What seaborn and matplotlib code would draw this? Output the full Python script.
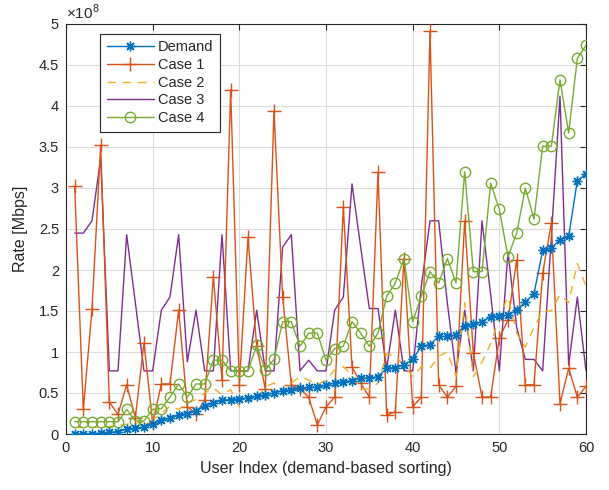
import numpy as np
import pandas as pd
import matplotlib
matplotlib.use("Agg")
import matplotlib.pyplot as plt
import seaborn as sns
from matplotlib.ticker import FuncFormatter, MultipleLocator

# ---- data (rates in units of 1e8 Mbps) ----
user_index = list(range(1, 61))

demand = [0.00, 0.00, 0.005, 0.01, 0.02, 0.03, 0.06, 0.07, 0.08, 0.12,
          0.17, 0.19, 0.23, 0.25, 0.28, 0.34, 0.38, 0.41, 0.42, 0.43,
          0.44, 0.46, 0.48, 0.50, 0.53, 0.54, 0.56, 0.57, 0.57, 0.60,
          0.62, 0.64, 0.65, 0.68, 0.68, 0.70, 0.80, 0.81, 0.84, 0.91,
          1.07, 1.09, 1.19, 1.19, 1.21, 1.32, 1.34, 1.37, 1.43, 1.44,
          1.45, 1.51, 1.61, 1.71, 2.24, 2.27, 2.37, 2.41, 3.09, 3.17]

case1 = [3.02, 0.30, 1.52, 3.52, 0.39, 0.24, 0.60, 0.20, 1.11, 0.13,
         0.61, 0.61, 1.51, 0.33, 0.25, 0.41, 1.92, 0.66, 4.20, 0.60,
         2.40, 1.07, 0.55, 3.94, 1.67, 0.60, 0.55, 0.45, 0.11, 0.33,
         0.45, 2.77, 0.82, 0.62, 0.45, 3.19, 0.23, 0.27, 2.14, 0.33,
         0.45, 4.92, 0.60, 0.45, 0.58, 2.60, 0.99, 0.45, 0.45, 1.17,
         1.39, 2.12, 0.60, 0.60, 1.96, 2.57, 0.37, 0.80, 0.45, 0.58]

case2 = [0.08, 0.08, 0.08, 0.09, 0.09, 0.10, 0.12, 0.13, 0.15, 0.17,
         0.25, 0.34, 0.30, 0.38, 0.42, 0.50, 0.56, 0.48, 0.54, 0.33,
         0.41, 0.42, 0.58, 0.62, 0.52, 0.62, 0.70, 0.66, 0.60, 0.66,
         0.78, 0.82, 0.72, 0.55, 0.55, 0.62, 0.98, 0.95, 0.84, 0.70,
         0.82, 0.80, 0.95, 1.00, 0.70, 1.60, 0.70, 0.88, 1.10, 1.43,
         1.67, 1.23, 1.06, 1.30, 1.50, 1.50, 1.70, 1.60, 2.08, 1.80]

case3 = [2.45, 2.45, 2.60, 3.36, 0.77, 0.77, 2.43, 1.60, 0.77, 0.77,
         1.51, 1.67, 2.43, 0.88, 1.51, 0.77, 0.77, 2.43, 0.77, 0.77,
         0.77, 1.51, 0.77, 0.77, 2.28, 2.43, 0.77, 0.90, 0.77, 0.77,
         1.51, 1.67, 3.05, 2.28, 1.53, 1.53, 0.80, 1.51, 0.77, 0.77,
         1.80, 2.60, 2.60, 1.60, 0.75, 1.51, 0.77, 2.60, 1.70, 0.77,
         2.22, 1.30, 0.91, 0.91, 0.77, 2.40, 4.12, 0.84, 1.67, 0.77]

case4 = [0.15, 0.15, 0.15, 0.15, 0.15, 0.15, 0.30, 0.16, 0.16, 0.30,
         0.31, 0.45, 0.61, 0.45, 0.61, 0.61, 0.90, 0.90, 0.77, 0.77,
         0.77, 1.08, 0.78, 0.91, 1.37, 1.37, 1.07, 1.23, 1.23, 0.90,
         1.04, 1.07, 1.37, 1.23, 1.07, 1.23, 1.68, 1.84, 2.14, 1.37,
         1.68, 1.98, 1.84, 2.14, 1.84, 3.20, 1.98, 1.98, 3.06, 2.74,
         2.16, 2.45, 3.00, 2.62, 3.51, 3.51, 4.32, 3.67, 4.58, 4.74]

series_names = ["Demand", "Case 1", "Case 2", "Case 3", "Case 4"]
x_ticks = [0, 10, 20, 30, 40, 50, 60]
SCALE = 1e8

colors = {"Demand": "#0072BD", "Case 1": "#D95319", "Case 2": "#EDB120",
          "Case 3": "#7E2F8E", "Case 4": "#77AC30"}

# ---- figure ----
sns.set_theme(style="white")
plt.rcParams["font.family"] = ["Liberation Sans", "DejaVu Sans"]
plt.rcParams["mathtext.fontset"] = "custom"
plt.rcParams["mathtext.rm"] = "Liberation Sans"

fig = plt.figure(figsize=(6.09, 4.90), dpi=100)
ax = fig.add_axes([66 / 609, 1 - 434 / 490, 520 / 609, 410 / 490])

data = {"Demand": demand, "Case 1": case1, "Case 2": case2,
        "Case 3": case3, "Case 4": case4}
styles = {
    "Demand": dict(marker=(8, 2, 0), markersize=7, linestyle="-"),
    "Case 1": dict(marker="+", markersize=10, linestyle="-"),
    "Case 2": dict(marker=None, linestyle=(0, (6, 5))),
    "Case 3": dict(marker=None, linestyle="-"),
    "Case 4": dict(marker="o", markersize=7.5, linestyle="-",
                   markerfacecolor="none"),
}
plot_order = ["Demand", "Case 1", "Case 2", "Case 3", "Case 4"]
zorders = {"Demand": 6, "Case 1": 3, "Case 2": 4, "Case 3": 2, "Case 4": 5}

for name in plot_order:
    df = pd.DataFrame({"x": user_index,
                       "y": np.array(data[name]) * SCALE})
    st = dict(styles[name])
    ls = st.pop("linestyle")
    sns.lineplot(data=df, x="x", y="y", ax=ax, color=colors[name],
                 linewidth=1.0, markeredgecolor=colors[name],
                 markeredgewidth=1.0, label=name, zorder=zorders[name],
                 sort=False, **st)
    ax.lines[-1].set_linestyle(ls)

ax.set_xlim(0, 60)
ax.set_ylim(0, 5 * SCALE)
ax.set_xticks(x_ticks)
ax.yaxis.set_major_locator(MultipleLocator(0.5 * SCALE))
ax.yaxis.set_major_formatter(FuncFormatter(lambda v, p: f"{v / SCALE:g}"))

ax.grid(True, color="#dcdcdc", linewidth=0.8)
ax.set_axisbelow(True)
for s in ax.spines.values():
    s.set_visible(True)
    s.set_color("#262626")
    s.set_linewidth(0.8)
ax.tick_params(direction="in", length=4, width=0.8, colors="#262626",
               labelsize=10.5, top=True, right=True, pad=5)
for lab in ax.get_xticklabels() + ax.get_yticklabels():
    lab.set_color("#262626")

ax.set_xlabel("User Index (demand-based sorting)", fontsize=11.5,
              color="#262626", labelpad=4)
ax.set_ylabel("Rate [Mbps]", fontsize=11.5, color="#262626", labelpad=8)
ax.text(0.0, 1.005, r"$\times10^{8}$", transform=ax.transAxes,
        ha="left", va="bottom", fontsize=11, color="#262626")

# legend
handles, labels = ax.get_legend_handles_labels()
for h, name in zip(handles, labels):
    h.set_linestyle(styles[name]["linestyle"])
leg = ax.legend(handles, labels, loc="upper left",
                bbox_to_anchor=(0.066, 0.976), borderaxespad=0,
                fancybox=False, framealpha=1, edgecolor="#262626",
                fontsize=10.5, handlelength=3.2, handletextpad=0.3,
                labelspacing=0.25, borderpad=0.45)
leg.get_frame().set_linewidth(0.8)

fig.savefig("out.png", dpi=100, facecolor="white")
